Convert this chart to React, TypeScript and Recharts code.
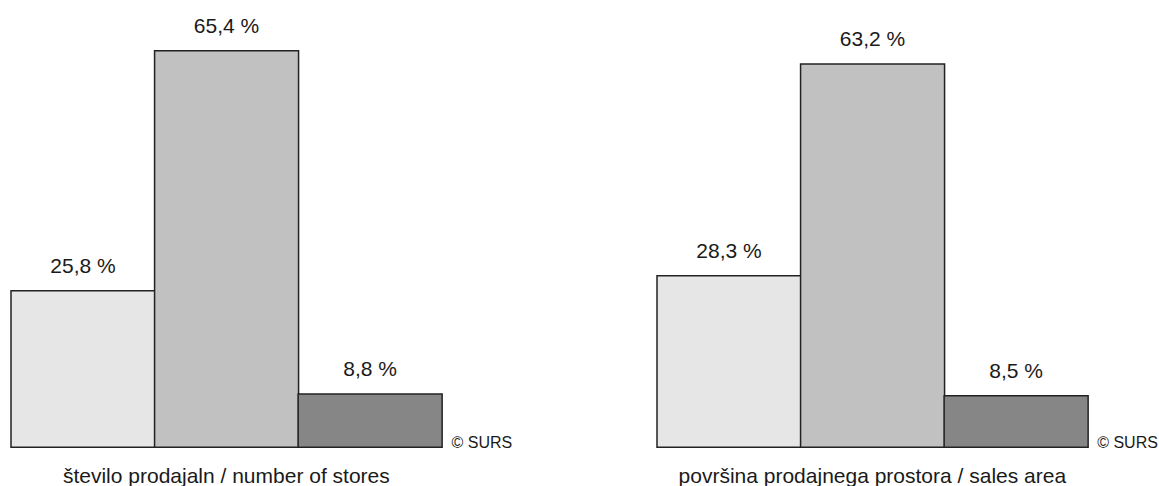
import { BarChart, Bar, XAxis, YAxis, Cell, LabelList } from 'recharts';

const groups = ['g1', 'g2', 'g3'];
const storesShare = [25.8, 65.4, 8.8];
const areaShare = [28.3, 63.2, 8.5];
const barColors = ['#e6e6e6', '#c1c1c1', '#868686'];
const panelTitles = ['število prodajaln / number of stores', 'površina prodajnega prostora / sales area'];
const sourceNote = '© SURS';

const fmtPct = (v: number) => `${v.toFixed(1).replace('.', ',')} %`;

interface PanelProps {
  values: number[];
  title: string;
  left: number;
}

function Panel({ values, title, left }: PanelProps) {
  const data = groups.map((g, i) => ({ group: g, value: values[i] }));
  return (
    <div style={{ position: 'absolute', left, top: 0 }}>
      <BarChart
        width={513}
        height={486}
        data={data}
        barCategoryGap={0}
        margin={{ top: 22.8, right: 71.3, bottom: 0, left: 11 }}
      >
        <XAxis
          dataKey="group"
          tick={false}
          tickLine={false}
          axisLine={false}
          height={38.7}
          label={{ value: title, position: 'insideBottom', offset: 3, fontSize: 21, fill: '#1a1a1a' }}
        />
        <YAxis hide domain={[0, 70]} />
        <Bar dataKey="value" stroke="#222" strokeWidth={1.5} isAnimationActive={false}>
          {data.map((d, i) => (
            <Cell key={d.group} fill={barColors[i]} />
          ))}
          <LabelList dataKey="value" position="top" offset={18} formatter={(v: any) => fmtPct(Number(v))} fontSize={21} fill="#1a1a1a" />
        </Bar>
      </BarChart>
      <span style={{ position: 'absolute', left: 451.5, top: 434, fontSize: 16, color: '#1a1a1a', whiteSpace: 'nowrap' }}>
        {sourceNote}
      </span>
    </div>
  );
}

export default function App() {
  return (
    <div
      style={{
        position: 'absolute',
        left: 0,
        top: 0,
        width: 1159,
        height: 486,
        background: '#fff',
        overflow: 'hidden',
        fontFamily: '"Liberation Sans", Arial, sans-serif',
      }}
    >
      <Panel values={storesShare} title={panelTitles[0]} left={0} />
      <Panel values={areaShare} title={panelTitles[1]} left={645.7} />
    </div>
  );
}
